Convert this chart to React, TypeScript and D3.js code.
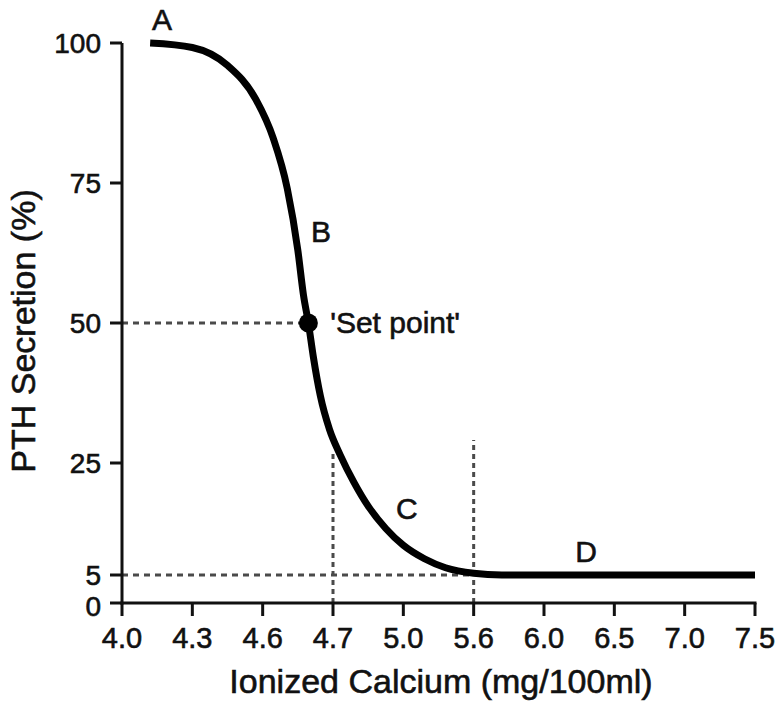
import React from 'react';
import * as d3 from 'd3';

// x axis is schematic: ticks are evenly spaced, so positions are in tick-index units
const xTickLabels = ['4.0', '4.3', '4.6', '4.7', '5.0', '5.6', '6.0', '6.5', '7.0', '7.5'];
const yTicks = [0, 5, 25, 50, 75, 100];

// PTH secretion curve: x in tick units, y in % secretion
const curveX = [0.40, 1.0, 1.5, 1.9, 2.15, 2.35, 2.5, 2.58, 2.65, 2.72, 2.82, 2.95, 3.1, 3.3, 3.5, 3.75, 4.0, 4.3, 4.6, 5.0, 5.4, 6.0, 9.0];
const curveY = [100, 99.2, 96, 90, 83, 74, 63, 55, 50, 44, 37, 31, 26.5, 21.5, 17.3, 13.3, 10.3, 7.9, 6.3, 5.3, 5.0, 5.0, 5.0];

const setPoint = { x: 2.65, y: 50 };
const refHLines = [{ y: 50, x1: 0, x2: 2.65 }, { y: 5, x1: 0, x2: 5 }];
const refVLines = [{ x: 3, top: 27.3 }, { x: 5, top: 29.1 }];
const letters = [
  { t: 'A', x: 0.57, y: 102.3 },
  { t: 'B', x: 2.83, y: 64.5 },
  { t: 'C', x: 4.05, y: 15 },
  { t: 'D', x: 6.6, y: 7.3 },
];

const font = '"Liberation Sans", Arial, Helvetica, sans-serif';
const ink = '#111';

export default function App() {
  const width = 783, height = 704;
  const x = d3.scaleLinear().domain([0, xTickLabels.length - 1]).range([122, 755]);
  const y = d3.scaleLinear().domain([0, 100]).range([603, 43]);

  const pts: [number, number][] = curveX.map((v, i) => [v, curveY[i]]);
  const line = d3.line<[number, number]>()
    .x(d => x(d[0]))
    .y(d => y(d[1]))
    .curve(d3.curveMonotoneX);

  // slight outline so the text looks as heavy as the scanned figure
  const txt = { fill: ink, stroke: ink, strokeWidth: 0.6 };

  return (
    <svg width={width} height={height} style={{ position: 'absolute', left: 0, top: 0, background: '#fff' }}
      fontFamily={font}>
      {/* reference dashed lines */}
      {refHLines.map((r, i) => (
        <line key={'h' + i} x1={x(r.x1)} x2={x(r.x2)} y1={y(r.y)} y2={y(r.y)}
          stroke="#4a4a4a" strokeWidth={3} strokeDasharray="6 5" />
      ))}
      {refVLines.map((r, i) => (
        <line key={'v' + i} x1={x(r.x)} x2={x(r.x)} y1={y(0)} y2={y(r.top)}
          stroke="#4a4a4a" strokeWidth={3} strokeDasharray="5 4" />
      ))}

      {/* y axis */}
      <line x1={x(0)} x2={x(0)} y1={y(0) + 1.5} y2={y(100)} stroke={ink} strokeWidth={3} />
      {yTicks.map(t => (
        <g key={'y' + t} transform={`translate(0,${y(t)})`}>
          <line x1={x(0) - 12} x2={x(0)} stroke={ink} strokeWidth={3} />
          <text x={x(0) - 21} dy={t === 0 ? '0.45em' : '0.34em'} textAnchor="end" fontSize={28} {...txt}>{t}</text>
        </g>
      ))}

      {/* x axis */}
      <line x1={x(0) - 1.5} x2={x(xTickLabels.length - 1) + 1.5} y1={y(0)} y2={y(0)} stroke={ink} strokeWidth={3} />
      {xTickLabels.map((t, i) => (
        <g key={'x' + i} transform={`translate(${x(i)},${y(0)})`}>
          <line y1={0} y2={13} stroke={ink} strokeWidth={3} />
          <text y={45} textAnchor="middle" fontSize={29} {...txt}>{t}</text>
        </g>
      ))}

      {/* curve */}
      <path d={line(pts) || ''} fill="none" stroke="#000" strokeWidth={7} strokeLinecap="butt" />
      <circle cx={x(setPoint.x)} cy={y(setPoint.y)} r={9.5} fill="#000" />
      <text x={x(2.96)} y={y(48.2)} fontSize={30} {...txt}>'Set point'</text>

      {letters.map(l => (
        <text key={l.t} x={x(l.x)} y={y(l.y)} textAnchor="middle" fontSize={30} {...txt}>{l.t}</text>
      ))}

      {/* axis titles */}
      <text x={441} y={693} textAnchor="middle" fontSize={34} {...txt}>Ionized Calcium (mg/100ml)</text>
      <text transform={`translate(35,331) rotate(-90)`} textAnchor="middle" fontSize={34} {...txt}>PTH Secretion (%)</text>
    </svg>
  );
}
